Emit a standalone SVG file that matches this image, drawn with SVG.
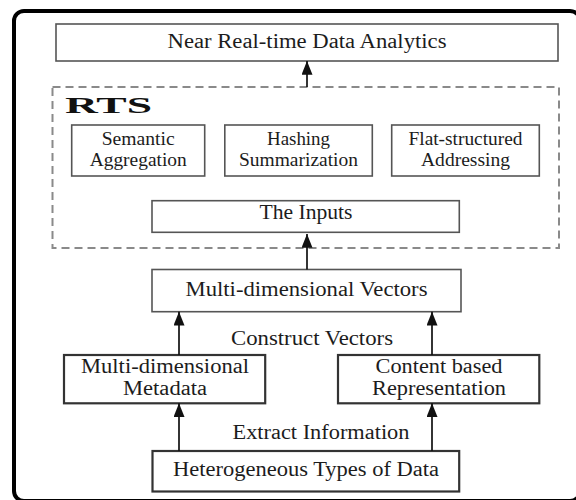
<svg xmlns="http://www.w3.org/2000/svg" width="576" height="500" viewBox="0 0 576 500">
  <defs>
    <marker id="arr" viewBox="0 0 15 12" refX="15" refY="6" markerWidth="15" markerHeight="11" markerUnits="userSpaceOnUse" orient="auto">
      <path d="M0,0 L15,6 L0,12 z" fill="#111"/>
    </marker>
    <style>
      .box { fill: #fff; stroke: #555; stroke-width: 1.6; }
      .boxd { fill: #fff; stroke: #333; stroke-width: 2.2; }
      .t { font-family: "Liberation Serif", "Times New Roman", serif; fill: #1c1c1c; text-anchor: middle; }
      .conn { stroke: #111; stroke-width: 1.7; fill: none; marker-end: url(#arr); }
    </style>
  </defs>
  <rect x="0" y="0" width="576" height="500" fill="#fff"/>
  <rect id="frame" x="14" y="11" width="566" height="490" rx="10" fill="none" stroke="#000" stroke-width="4"/>

  <g id="rts">
    <rect x="52.5" y="87" width="506.5" height="161" fill="none" stroke="#8a8a8a" stroke-width="2" stroke-dasharray="8,5"/>
    <text x="65" y="113" font-family="Liberation Serif, serif" font-weight="bold" font-size="24" fill="#111" textLength="87" lengthAdjust="spacingAndGlyphs">RTS</text>
  </g>

  <g id="analytics">
    <rect class="box" x="56" y="24" width="502" height="37"/>
    <text class="t" x="307" y="48" font-size="20" textLength="279" lengthAdjust="spacingAndGlyphs">Near Real-time Data Analytics</text>
  </g>

  <g id="semantic">
    <rect class="box" x="71.7" y="125" width="133" height="51"/>
    <text class="t" x="138.2" y="145" font-size="19" textLength="73" lengthAdjust="spacingAndGlyphs">Semantic</text>
    <text class="t" x="138.2" y="166" font-size="19" textLength="97" lengthAdjust="spacingAndGlyphs">Aggregation</text>
  </g>

  <g id="hashing">
    <rect class="box" x="224.8" y="125" width="147.5" height="51"/>
    <text class="t" x="298.5" y="145" font-size="19" textLength="63" lengthAdjust="spacingAndGlyphs">Hashing</text>
    <text class="t" x="298.5" y="166" font-size="19" textLength="119" lengthAdjust="spacingAndGlyphs">Summarization</text>
  </g>

  <g id="flat">
    <rect class="box" x="391.7" y="125" width="147.6" height="51"/>
    <text class="t" x="465.5" y="145" font-size="19" textLength="114" lengthAdjust="spacingAndGlyphs">Flat-structured</text>
    <text class="t" x="465.5" y="166" font-size="19" textLength="89" lengthAdjust="spacingAndGlyphs">Addressing</text>
  </g>

  <g id="inputs">
    <rect class="box" x="152" y="200.7" width="307.3" height="31.6"/>
    <text class="t" x="306" y="219" font-size="20" textLength="93" lengthAdjust="spacingAndGlyphs">The Inputs</text>
  </g>

  <g id="vectors">
    <rect class="box" x="152" y="269.5" width="309" height="42.2"/>
    <text class="t" x="306.5" y="296" font-size="20" textLength="242" lengthAdjust="spacingAndGlyphs">Multi-dimensional Vectors</text>
  </g>

  <g id="metadata">
    <rect class="boxd" x="64" y="355" width="201.2" height="48.3"/>
    <text class="t" x="165" y="373" font-size="20" textLength="168" lengthAdjust="spacingAndGlyphs">Multi-dimensional</text>
    <text class="t" x="165" y="395" font-size="20" textLength="84" lengthAdjust="spacingAndGlyphs">Metadata</text>
  </g>

  <g id="content">
    <rect class="boxd" x="338" y="355" width="201.3" height="48.3"/>
    <text class="t" x="439" y="373" font-size="20" textLength="127" lengthAdjust="spacingAndGlyphs">Content based</text>
    <text class="t" x="439" y="395" font-size="20" textLength="134" lengthAdjust="spacingAndGlyphs">Representation</text>
  </g>

  <g id="heterogeneous">
    <rect class="boxd" x="152.5" y="451" width="306.7" height="40.5"/>
    <text class="t" x="306" y="476" font-size="20" textLength="266" lengthAdjust="spacingAndGlyphs">Heterogeneous Types of Data</text>
  </g>

  <g id="connectors">
    <line class="conn" x1="307" y1="87" x2="307" y2="61"/>
    <line class="conn" x1="307" y1="269.5" x2="307" y2="234"/>
    <line class="conn" x1="179" y1="355" x2="179" y2="311.7"/>
    <line class="conn" x1="432" y1="355" x2="432" y2="311.7"/>
    <line class="conn" x1="179" y1="451" x2="179" y2="403.3"/>
    <line class="conn" x1="432" y1="451" x2="432" y2="403.3"/>
    <text class="t" x="312" y="345" font-size="20" textLength="162" lengthAdjust="spacingAndGlyphs">Construct Vectors</text>
    <text class="t" x="321" y="439" font-size="20" textLength="177" lengthAdjust="spacingAndGlyphs">Extract Information</text>
  </g>
</svg>
